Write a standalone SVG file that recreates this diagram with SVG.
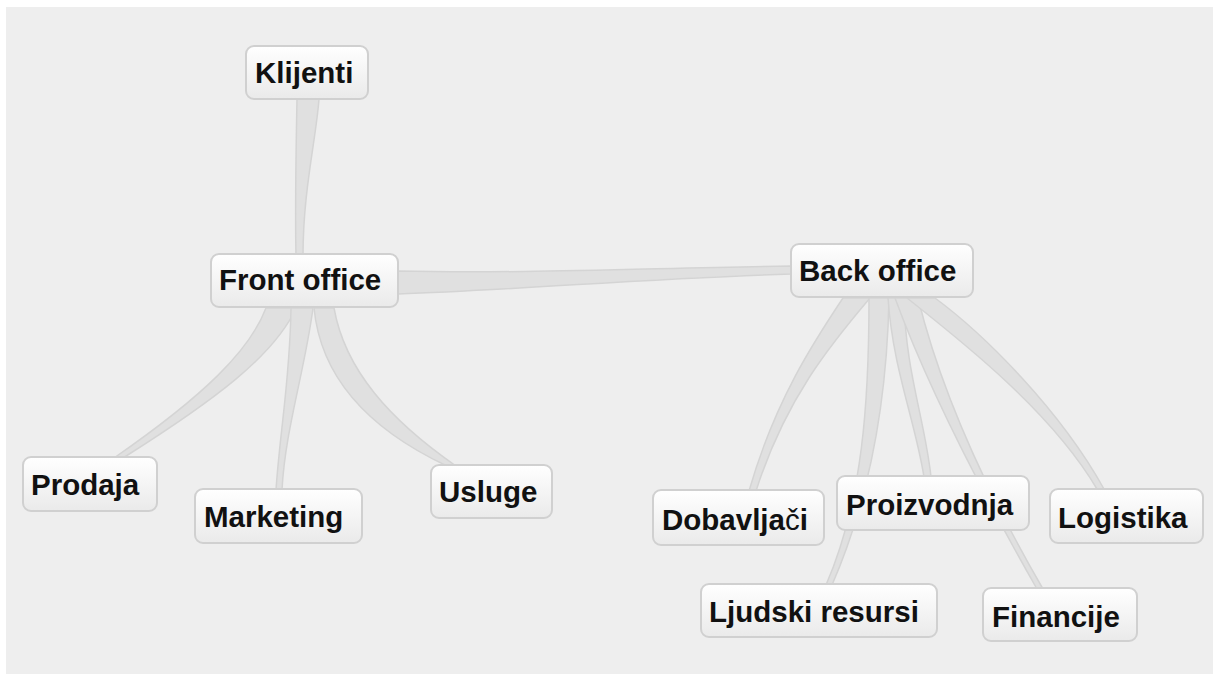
<svg xmlns="http://www.w3.org/2000/svg" width="1213" height="674" viewBox="0 0 1213 674">
<style>
.panel{fill:#eeeeee}
.edge{fill:#e0e0e0;stroke:#d4d4d4;stroke-width:1.5;stroke-linejoin:round}
.box{fill:url(#g);stroke:#d0d0d0;stroke-width:2}
.lbl{font-family:"Liberation Sans",Arial,sans-serif;font-weight:bold;font-size:29.5px;fill:#111}
.thin{font-weight:normal}
</style>
<defs>
<linearGradient id="g" x1="0" y1="0" x2="0" y2="1">
<stop offset="0" stop-color="#ffffff"/>
<stop offset="1" stop-color="#eaeaea"/>
</linearGradient>
</defs>
<rect class="panel" x="6" y="7" width="1207" height="667"/>
<g id="connectors">
<path class="edge" d="M297,99 C296,150 295,210 296,256 L303,256 C303,190 316,140 319,99 Z"/>
<path class="edge" d="M398,271 C520,274 650,268 791,266 L791,274 C650,278 520,290 398,294 Z"/>
<path class="edge" d="M266,308 C250,350 205,395 114,458 L123,458 C215,400 275,355 296,308 Z"/>
<path class="edge" d="M291,308 C290,380 280,430 276,490 L282,490 C285,430 305,370 313,308 Z"/>
<path class="edge" d="M314,308 C320,370 360,425 447,466 L456,466 C390,420 345,370 334,308 Z"/>
<path class="edge" d="M843,298 C815,340 775,400 749,491 L756,491 C785,400 830,345 870,298 Z"/>
<path class="edge" d="M869,298 C869,400 863,500 826,585 L832,585 C869,500 887,400 889,298 Z"/>
<path class="edge" d="M888,298 C893,370 915,420 924,477 L931,477 C925,420 905,370 904,298 Z"/>
<path class="edge" d="M895,298 C925,380 975,480 1037,589 L1043,589 C980,480 938,380 918,298 Z"/>
<path class="edge" d="M907,298 C960,340 1050,410 1097,489 L1104,489 C1060,410 985,335 935,298 Z"/>
</g>
<g id="n-klijenti"><rect class="box" x="246" y="46" width="122" height="53" rx="8"/><text class="lbl" x="255" y="83">Klijenti</text></g>
<g id="n-front"><rect class="box" x="211" y="254" width="187" height="53" rx="8"/><text class="lbl" x="219" y="290">Front office</text></g>
<g id="n-back"><rect class="box" x="791" y="244" width="182" height="53" rx="8"/><text class="lbl" x="799" y="281">Back office</text></g>
<g id="n-prodaja"><rect class="box" x="23" y="457" width="134" height="54" rx="8"/><text class="lbl" x="31" y="495">Prodaja</text></g>
<g id="n-marketing"><rect class="box" x="195" y="489" width="167" height="54" rx="8"/><text class="lbl" x="204" y="527">Marketing</text></g>
<g id="n-usluge"><rect class="box" x="431" y="465" width="121" height="53" rx="8"/><text class="lbl" x="439" y="502">Usluge</text></g>
<g id="n-dobavljaci"><rect class="box" x="653" y="490" width="171" height="55" rx="8"/><text class="lbl" x="662" y="530">Dobavlja<tspan class="thin">č</tspan>i</text></g>
<g id="n-proizvodnja"><rect class="box" x="837" y="476" width="192" height="54" rx="8"/><text class="lbl" x="846" y="515">Proizvodnja</text></g>
<g id="n-logistika"><rect class="box" x="1050" y="489" width="153" height="54" rx="8"/><text class="lbl" x="1058" y="528">Logistika</text></g>
<g id="n-ljudski"><rect class="box" x="701" y="584" width="236" height="53" rx="8"/><text class="lbl" x="709" y="622">Ljudski resursi</text></g>
<g id="n-financije"><rect class="box" x="983" y="588" width="154" height="53" rx="8"/><text class="lbl" x="992" y="627">Financije</text></g>
</svg>
